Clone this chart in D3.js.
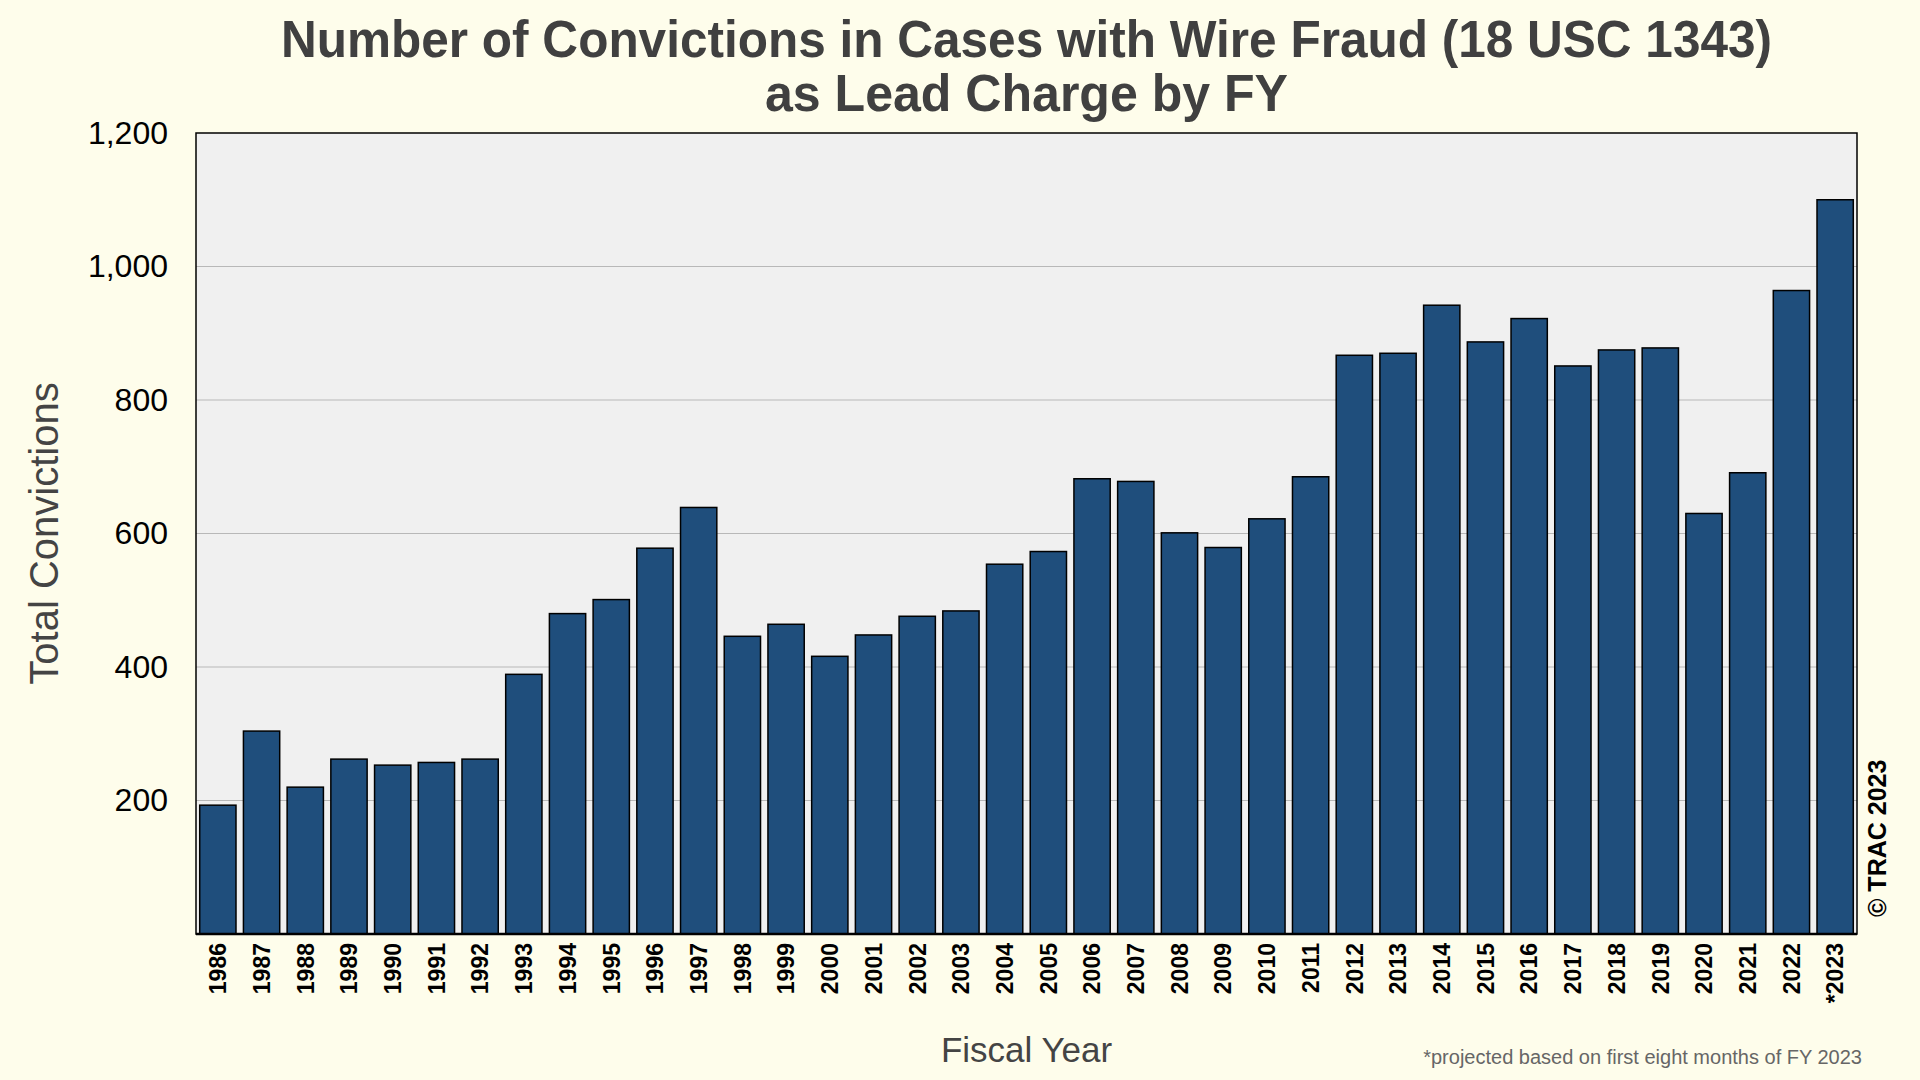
<!DOCTYPE html>
<html>
<head>
<meta charset="utf-8">
<script src="https://cdn.jsdelivr.net/npm/d3@7"></script>
<style>
  html, body { margin: 0; padding: 0; background: #fefdeb; }
  svg { display: block; }
  text { font-family: "Liberation Sans", Arial, Helvetica, sans-serif; }
</style>
</head>
<body>
<svg id="chart" width="1920" height="1080"></svg>
<script>
const years = ["1986","1987","1988","1989","1990","1991","1992","1993","1994","1995",
  "1996","1997","1998","1999","2000","2001","2002","2003","2004","2005",
  "2006","2007","2008","2009","2010","2011","2012","2013","2014","2015",
  "2016","2017","2018","2019","2020","2021","2022","*2023"];
const convictions = [193,304,220,262,253,257,262,389,480,501,
  578,639,446,464,416,448,476,484,554,573,
  682,678,601,579,622,685,867,870,942,887,
  922,851,875,878,630,691,964,1100];
const yTicks = [200,400,600,800,1000,1200];
const titleLines = ["Number of Convictions in Cases with Wire Fraud (18 USC 1343)", "as Lead Charge by FY"];
const yTitle = "Total Convictions";
const xTitle = "Fiscal Year";
const footnote = "*projected based on first eight months of FY 2023";
const credit = "\u00A9 TRAC 2023";

const svg = d3.select("#chart");
const plot = {left: 196, right: 1857, top: 133, bottom: 934};
const cx = (plot.left + plot.right) / 2;

svg.append("rect").attr("width", 1920).attr("height", 1080).attr("fill", "#fefdeb");

const x = d3.scaleBand().domain(years).range([plot.left, plot.right])
  .paddingInner(0.17).paddingOuter(0.085);
const y = d3.scaleLinear().domain([0, 1200]).range([plot.bottom, plot.top]);

// plot background
svg.append("rect")
  .attr("x", plot.left).attr("y", plot.top)
  .attr("width", plot.right - plot.left).attr("height", plot.bottom - plot.top)
  .attr("fill", "#f0f0f0");

// gridlines
svg.append("g").selectAll("line").data(yTicks.filter(t => t < 1200)).join("line")
  .attr("x1", plot.left).attr("x2", plot.right)
  .attr("y1", d => y(d)).attr("y2", d => y(d))
  .attr("stroke", "#b8b8b8").attr("stroke-width", 1.2);

// bars
svg.append("g").selectAll("rect").data(convictions).join("rect")
  .attr("x", (d, i) => x(years[i]))
  .attr("y", d => y(d))
  .attr("width", x.bandwidth())
  .attr("height", d => y(0) - y(d))
  .attr("fill", "#1f4e7c")
  .attr("stroke", "#000").attr("stroke-width", 1.5);

// plot border
svg.append("rect")
  .attr("x", plot.left).attr("y", plot.top)
  .attr("width", plot.right - plot.left).attr("height", plot.bottom - plot.top)
  .attr("fill", "none").attr("stroke", "#000").attr("stroke-width", 1.5);
svg.append("line").attr("x1", plot.left).attr("x2", plot.right)
  .attr("y1", plot.bottom).attr("y2", plot.bottom)
  .attr("stroke", "#000").attr("stroke-width", 2.5);

// y axis labels
const yAxis = d3.axisLeft(y).tickValues(yTicks).tickSize(0).tickPadding(28)
  .tickFormat(d3.format(","));
const yg = svg.append("g").attr("transform", `translate(${plot.left},0)`).call(yAxis);
yg.select(".domain").remove();
yg.selectAll("text").attr("font-size", 32).attr("fill", "#000")
  .style("font-family", '"Liberation Sans", Arial, sans-serif');

// x axis labels
const xAxis = d3.axisBottom(x).tickSize(0).tickPadding(0);
const xg = svg.append("g").attr("transform", `translate(0,${plot.bottom})`).call(xAxis);
xg.select(".domain").remove();
xg.selectAll(".tick text")
  .attr("transform", "translate(0,9) rotate(-90)")
  .attr("x", 0).attr("y", 0).attr("dy", "0.36em")
  .attr("text-anchor", "end")
  .attr("font-size", 23).attr("font-weight", "bold").attr("fill", "#000")
  .style("font-family", '"Liberation Sans", Arial, sans-serif');

// title
const titleWidths = [1491, 523];
svg.append("g").selectAll("text").data(titleLines).join("text")
  .attr("x", cx).attr("y", (d, i) => 57 + i * 54)
  .attr("text-anchor", "middle")
  .attr("font-size", 52).attr("font-weight", "bold").attr("fill", "#404040")
  .attr("textLength", (d, i) => titleWidths[i])
  .attr("lengthAdjust", "spacingAndGlyphs")
  .text(d => d);

// axis titles
svg.append("text")
  .attr("transform", `translate(58,${(plot.top + plot.bottom) / 2}) rotate(-90)`)
  .attr("text-anchor", "middle")
  .attr("font-size", 40).attr("fill", "#444")
  .text(yTitle);

svg.append("text")
  .attr("x", cx).attr("y", 1062)
  .attr("text-anchor", "middle")
  .attr("font-size", 35).attr("fill", "#444")
  .text(xTitle);

svg.append("text")
  .attr("x", 1862).attr("y", 1064)
  .attr("text-anchor", "end")
  .attr("font-size", 20).attr("fill", "#666")
  .text(footnote);

svg.append("text")
  .attr("transform", `translate(1886,917) rotate(-90)`)
  .attr("text-anchor", "start")
  .attr("font-size", 25).attr("font-weight", "bold").attr("fill", "#000")
  .text(credit);
</script>
</body>
</html>
